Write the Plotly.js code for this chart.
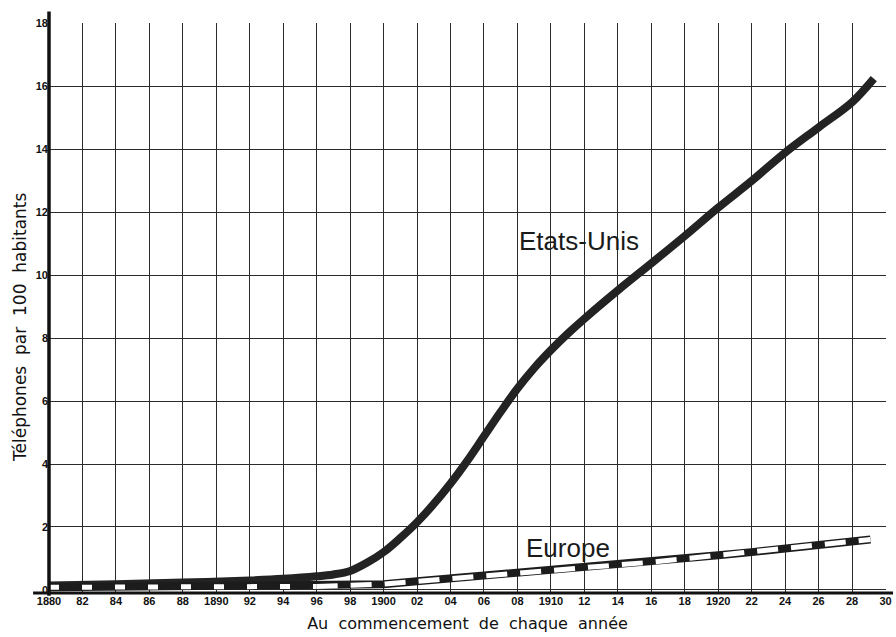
<!DOCTYPE html>
<html>
<head>
<meta charset="utf-8">
<script src="https://cdn.plot.ly/plotly-3.0.1.min.js"></script>
<style>
  html, body { margin: 0; padding: 0; background: #ffffff; }
  #chart { width: 896px; height: 637px; }
</style>
</head>
<body>
<div id="chart"></div>
<script>
// ---- Data ----
const usYears   = [1880, 1884, 1888, 1892, 1894, 1896, 1897, 1898, 1899, 1900, 1901, 1902, 1903, 1904, 1905, 1906, 1907, 1908, 1909, 1910, 1911, 1912, 1914, 1916, 1918, 1920, 1922, 1924, 1926, 1928, 1929.3];
const usValues  = [0.14, 0.18, 0.23, 0.30, 0.35, 0.43, 0.49, 0.60, 0.86, 1.20, 1.65, 2.15, 2.73, 3.38, 4.10, 4.88, 5.66, 6.40, 7.05, 7.62, 8.14, 8.62, 9.52, 10.38, 11.25, 12.15, 13.00, 13.90, 14.70, 15.50, 16.25];

const euYears   = [1880, 1884, 1888, 1892, 1896, 1898, 1900, 1902, 1904, 1906, 1908, 1910, 1912, 1914, 1916, 1918, 1920, 1922, 1924, 1926, 1928, 1929.1];
const euValues  = [0.08, 0.09, 0.09, 0.10, 0.11, 0.14, 0.18, 0.27, 0.36, 0.44, 0.52, 0.60, 0.68, 0.78, 0.88, 0.99, 1.10, 1.20, 1.31, 1.41, 1.52, 1.60];

const xTickVals = [1880, 1882, 1884, 1886, 1888, 1890, 1892, 1894, 1896, 1898, 1900, 1902, 1904, 1906, 1908, 1910, 1912, 1914, 1916, 1918, 1920, 1922, 1924, 1926, 1928, 1930];
const xTickText = ["1880", "82", "84", "86", "88", "1890", "92", "94", "96", "98", "1900", "02", "04", "06", "08", "1910", "12", "14", "16", "18", "1920", "22", "24", "26", "28", "30"];
const yTickVals = [0, 2, 4, 6, 8, 10, 12, 14, 16, 18];
const yTickText = ["0", "2", "4", "6", "8", "10", "12", "14", "16", "18"];

const seriesNames = ["Etats-Unis", "Europe"];
const xTitle = "Au\u00a0 commencement\u00a0 de\u00a0 chaque\u00a0 année";
const yTitle = "Téléphones\u00a0 par\u00a0 100\u00a0 habitants";

// split Europe for the two dash rhythms seen on the print
const splitYear = 1896;
const euEarlyX = [], euEarlyY = [], euLateX = [], euLateY = [];
euYears.forEach((yr, i) => {
  if (yr <= splitYear) { euEarlyX.push(yr); euEarlyY.push(euValues[i]); }
  if (yr >= splitYear) { euLateX.push(yr); euLateY.push(euValues[i]); }
});

const ink = '#1c1c1c';

const traces = [
  { x: usYears, y: usValues, type: 'scatter', mode: 'lines', name: seriesNames[0],
    line: { color: '#232323', width: 8, shape: 'spline', smoothing: 1 }, hoverinfo: 'x+y' },
  { x: euYears, y: euValues, type: 'scatter', mode: 'lines', name: seriesNames[1],
    line: { color: ink, width: 8, shape: 'linear' }, hoverinfo: 'x+y' },
  { x: euEarlyX, y: euEarlyY, type: 'scatter', mode: 'lines', showlegend: false, hoverinfo: 'skip',
    line: { color: '#ffffff', width: 5, shape: 'linear', dash: '10px,23px' } },
  { x: euLateX, y: euLateY, type: 'scatter', mode: 'lines', showlegend: false, hoverinfo: 'skip',
    line: { color: '#ffffff', width: 5, shape: 'linear', dash: '21px,13px' } }
];

const tickFont = { family: 'Liberation Sans, Arial, sans-serif', size: 11, color: '#111', weight: 'bold' };

const layout = {
  width: 896, height: 637,
  margin: { l: 49, r: 10, t: 23, b: 44 },
  paper_bgcolor: '#ffffff', plot_bgcolor: '#ffffff',
  showlegend: false,
  xaxis: {
    range: [1880, 1930.03],
    tickmode: 'array', tickvals: xTickVals, ticktext: xTickText,
    showgrid: true, gridcolor: '#2b2b2b', gridwidth: 1,
    zeroline: false, showline: false, ticks: '',
    tickfont: tickFont,
    title: { text: xTitle, font: { family: 'DejaVu Sans, sans-serif', size: 16, color: '#111' }, standoff: 11 }
  },
  yaxis: {
    range: [-0.1, 18.02],
    tickmode: 'array', tickvals: yTickVals, ticktext: yTickText,
    showgrid: true, gridcolor: '#2b2b2b', gridwidth: 1,
    zeroline: false, showline: false, ticks: '',
    tickfont: tickFont
  },
  shapes: [
    { type: 'line', xref: 'paper', yref: 'paper', x0: 0, x1: 0, y0: -0.005, y1: 1.02,
      line: { color: '#111', width: 3.5 } },
    { type: 'line', xref: 'paper', yref: 'paper', x0: -0.019, x1: 1.0084, y0: 0, y1: 0,
      line: { color: '#111', width: 3 } }
  ],
  annotations: [
    { x: -0.0346, y: 0.465, xref: 'paper', yref: 'paper', text: yTitle, showarrow: false,
      textangle: -90, xanchor: 'center', yanchor: 'middle',
      font: { family: 'DejaVu Sans, sans-serif', size: 17, color: '#111' } },
    { x: 1911.7, y: 11.08, xref: 'x', yref: 'y', text: seriesNames[0], showarrow: false,
      font: { family: 'Liberation Sans, Arial, sans-serif', size: 26, color: '#1a1a1a' } },
    { x: 1911.0, y: 1.32, xref: 'x', yref: 'y', text: seriesNames[1], showarrow: false,
      font: { family: 'Liberation Sans, Arial, sans-serif', size: 26, color: '#1a1a1a' } }
  ]
};

Plotly.newPlot('chart', traces, layout, { displayModeBar: false, staticPlot: true });
</script>
</body>
</html>
